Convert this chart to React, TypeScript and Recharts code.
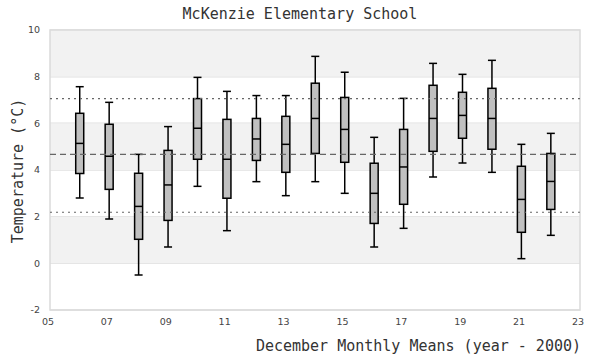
import React from 'react';
import {
  ComposedChart, Bar, XAxis, YAxis, CartesianGrid, ReferenceLine, ReferenceArea,
} from 'recharts';

const years = [6, 7, 8, 9, 10, 11, 12, 13, 14, 15, 16, 17, 18, 19, 20, 21, 22];
const mins = [2.8, 1.9, -0.5, 0.7, 3.3, 1.4, 3.5, 2.9, 3.5, 3.0, 0.7, 1.5, 3.7, 4.3, 3.9, 0.2, 1.2];
const q1s = [3.85, 3.17, 1.03, 1.84, 4.46, 2.79, 4.41, 3.9, 4.71, 4.33, 1.71, 2.53, 4.8, 5.36, 4.89, 1.33, 2.31];
const meds = [5.14, 4.59, 2.44, 3.36, 5.79, 4.46, 5.33, 5.1, 6.21, 5.74, 3.0, 4.13, 6.21, 6.34, 6.21, 2.74, 3.51];
const q3s = [6.43, 5.96, 3.86, 4.84, 7.06, 6.17, 6.21, 6.3, 7.72, 7.11, 4.29, 5.74, 7.63, 7.33, 7.5, 4.16, 4.71];
const maxs = [7.57, 6.9, 4.67, 5.86, 7.97, 7.37, 7.19, 7.19, 8.87, 8.19, 5.4, 7.07, 8.57, 8.1, 8.7, 5.1, 5.57];

const xTicks = [5, 7, 9, 11, 13, 15, 17, 19, 21, 23];
const yTicks = [-2, 0, 2, 4, 6, 8, 10];
const bands: [number, number][] = [[0, 2], [4, 6], [8, 10]];
const upperLine = 7.06;
const meanLine = 4.67;
const lowerLine = 2.19;

const data = years.map((yr, i) => ({
  year: yr,
  min: mins[i],
  q1: q1s[i],
  med: meds[i],
  q3: q3s[i],
  max: maxs[i],
  range: [mins[i], maxs[i]],
}));

const BoxShape = (props: any) => {
  const { x, y, width, height, payload } = props;
  if (payload == null || x == null) return null;
  const { min, max, q1, q3, med } = payload;
  const py = (v: number) => y + (height * (max - v)) / (max - min);
  const cx = x + width / 2;
  const yMax = py(max);
  const yMin = py(min);
  const yQ1 = py(q1);
  const yQ3 = py(q3);
  const yMed = py(med);
  return (
    <g>
      <line x1={cx} x2={cx} y1={yMax} y2={yMin} stroke="#000" strokeWidth={1.5} />
      <line x1={x} x2={x + width} y1={yMax} y2={yMax} stroke="#000" strokeWidth={1.5} />
      <line x1={x} x2={x + width} y1={yMin} y2={yMin} stroke="#000" strokeWidth={1.5} />
      <rect x={x} y={yQ3} width={width} height={yQ1 - yQ3} fill="#c0c0c0" stroke="#000" strokeWidth={1.5} />
      <line x1={x} x2={x + width} y1={yMed} y2={yMed} stroke="#000" strokeWidth={1.5} />
    </g>
  );
};

const mono = '"DejaVu Sans Mono", monospace';
const tickFont = { fontSize: 9.5, fill: '#444', fontFamily: '"DejaVu Sans", sans-serif' };

export default function App() {
  return (
    <div style={{ position: 'absolute', left: 0, top: 0, width: 600, height: 360, background: '#fff' }}>
      <div style={{ position: 'absolute', left: 0, top: 5, width: 600, textAlign: 'center', fontFamily: mono, fontSize: 15, color: '#333' }}>
        McKenzie Elementary School
      </div>
      <ComposedChart
        width={600}
        height={360}
        data={data}
        margin={{ top: 30, right: 20, bottom: 0, left: 0 }}
      >
        {bands.map(([a, b]) => (
          <ReferenceArea key={a} y1={a} y2={b} x1={5} x2={23} fill="#f2f2f2" fillOpacity={1} stroke="none" />
        ))}
        <CartesianGrid horizontal vertical={false} stroke="#e0e0e0" strokeWidth={1.5} />
        <ReferenceArea x1={5} x2={23} y1={-2} y2={10} fill="none" stroke="#dadada" strokeWidth={1.5} />
        <XAxis
          dataKey="year"
          type="number"
          domain={[5, 23]}
          ticks={xTicks}
          tickFormatter={(v: number) => String(v).padStart(2, '0')}
          tick={tickFont}
          tickLine={false}
          axisLine={false}
          height={50}
          dx={-2}
          interval={0}
        />
        <YAxis
          type="number"
          domain={[-2, 10]}
          ticks={yTicks}
          tick={tickFont}
          tickLine={false}
          axisLine={false}
          width={50}
          tickMargin={4}
          interval={0}
        />
        <ReferenceLine y={upperLine} stroke="#666" strokeDasharray="2 4" strokeWidth={1.2} />
        <ReferenceLine y={meanLine} stroke="#666" strokeDasharray="6 4" strokeWidth={1.2} />
        <ReferenceLine y={lowerLine} stroke="#666" strokeDasharray="2 4" strokeWidth={1.2} />
        <Bar dataKey="range" barSize={8} shape={<BoxShape />} isAnimationActive={false} />
      </ComposedChart>
      <div style={{ position: 'absolute', right: 19, top: 337, fontFamily: mono, fontSize: 15, color: '#333', whiteSpace: 'nowrap' }}>
        December Monthly Means (year - 2000)
      </div>
      <div style={{ position: 'absolute', left: 18, top: 171, width: 0, height: 0 }}>
        <div style={{ position: 'absolute', left: 0, top: 0, transform: 'translate(-50%, -50%) rotate(-90deg)', fontFamily: mono, fontSize: 15, color: '#333', whiteSpace: 'nowrap' }}>
          Temperature (°C)
        </div>
      </div>
    </div>
  );
}
